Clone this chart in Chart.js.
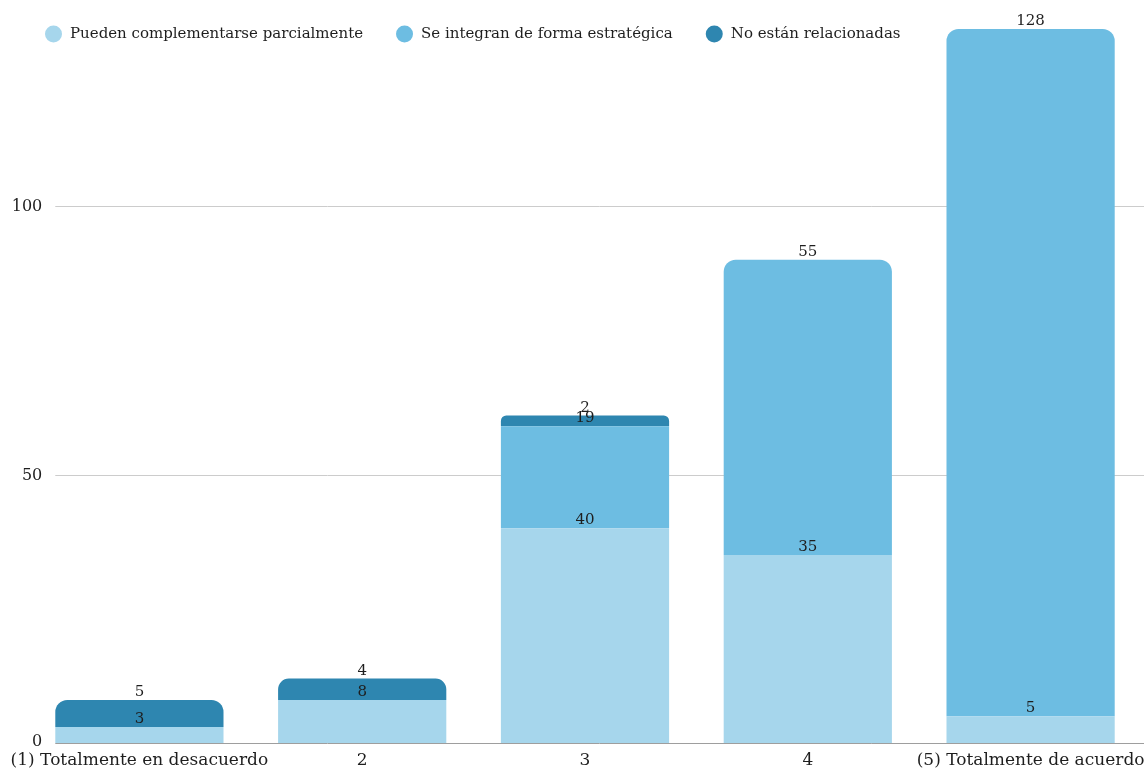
<!DOCTYPE html>
<html lang="es">
<head>
<meta charset="utf-8">
<title>Respuestas por nivel de acuerdo</title>
<script src="https://cdn.jsdelivr.net/npm/chart.js@4.4.1/dist/chart.umd.min.js"></script>
<style>
  html, body { margin: 0; padding: 0; background: #ffffff; }
  #wrap { width: 1144px; height: 769px; position: relative; }
</style>
</head>
<body>
<div id="wrap"><canvas id="chart" width="1144" height="769"></canvas></div>
<script>
// Response categories (agreement scale)
const categories = [
  '(1) Totalmente en desacuerdo',
  '2',
  '3',
  '4',
  '(5) Totalmente de acuerdo'
];

// Series names
const seriesNames = [
  'Pueden complementarse parcialmente',
  'Se integran de forma estratégica',
  'No están relacionadas'
];

// Counts per category for each series
const parcialmente = [3, 8, 40, 35, 5];
const estrategica  = [0, 0, 19, 55, 128];
const noRelacionadas = [5, 4, 2, 0, 0];

// Y axis tick step
const yStep = 50;

const colors = ['#a6d6ec', '#6dbde2', '#2e86b0'];
const FONT = '"DejaVu Serif", "Liberation Serif", serif';
const TEXT = '#1e1e1e';

const seriesValues = [parcialmente, estrategica, noRelacionadas];
const stackTotals = categories.map((_, i) => seriesValues.reduce((s, arr) => s + arr[i], 0));
const yMax = Math.max(...stackTotals);

// Gridlines start at the first bar's left edge and run to the right side;
// the y tick labels sit to the left of them.
const gridPlugin = {
  id: 'sheetGrid',
  beforeDatasetsDraw(chart) {
    const { ctx } = chart;
    const y = chart.scales.y;
    const first = chart.getDatasetMeta(0).data[0];
    const x0 = first.x - first.width / 2;
    ctx.save();
    ctx.lineWidth = 1;
    ctx.font = '16px ' + FONT;
    ctx.textAlign = 'right';
    ctx.textBaseline = 'middle';
    y.ticks.forEach(t => {
      const py = Math.round(y.getPixelForValue(t.value)) + 0.5;
      ctx.strokeStyle = t.value === 0 ? '#9e9e9e' : '#cccccc';
      ctx.beginPath();
      ctx.moveTo(x0, py);
      ctx.lineTo(chart.width, py);
      ctx.stroke();
      ctx.fillStyle = TEXT;
      ctx.fillText(String(t.value), x0 - 13, py - (t.value === 0 ? 2 : 0));
    });
    ctx.restore();
  }
};

// Value labels placed just above the end of each segment
const valueLabels = {
  id: 'valueLabels',
  afterDatasetsDraw(chart) {
    const { ctx } = chart;
    ctx.save();
    ctx.font = '15px ' + FONT;
    ctx.fillStyle = TEXT;
    ctx.textAlign = 'center';
    ctx.textBaseline = 'alphabetic';
    chart.data.datasets.forEach((ds, di) => {
      const meta = chart.getDatasetMeta(di);
      meta.data.forEach((bar, i) => {
        const v = ds.data[i];
        if (!v) return;
        ctx.fillText(String(v), bar.x, bar.y - 4);
      });
    });
    ctx.restore();
  }
};

// Legend row drawn across the top, overlapping the plot's upper band
const topLegend = {
  id: 'topLegend',
  afterDraw(chart) {
    const { ctx } = chart;
    ctx.save();
    ctx.font = '15px ' + FONT;
    ctx.textBaseline = 'middle';
    ctx.textAlign = 'left';
    let x = 45;
    const cy = 34;
    const r = 8.5;
    chart.data.datasets.forEach(ds => {
      ctx.fillStyle = ds.backgroundColor;
      ctx.beginPath();
      ctx.arc(x + r, cy, r, 0, Math.PI * 2);
      ctx.fill();
      const tx = x + 2 * r + 8;
      ctx.fillStyle = TEXT;
      ctx.fillText(ds.label, tx, cy);
      x = tx + ctx.measureText(ds.label).width + 33;
    });
    ctx.restore();
  }
};

const datasets = seriesNames.map((name, k) => ({
  label: name,
  data: seriesValues[k],
  backgroundColor: colors[k],
  borderWidth: 0,
  borderRadius: 12,
  borderSkipped: 'start',
  categoryPercentage: 1.0,
  barPercentage: 0.755
}));

new Chart(document.getElementById('chart'), {
  type: 'bar',
  data: { labels: categories, datasets },
  options: {
    responsive: false,
    animation: false,
    layout: { padding: { top: 29, right: 2, bottom: 0, left: 0 } },
    plugins: {
      legend: { display: false },
      tooltip: { enabled: false }
    },
    scales: {
      x: {
        stacked: true,
        grid: { display: false, drawTicks: false },
        border: { display: false },
        ticks: {
          color: TEXT,
          font: { family: FONT, size: 17, lineHeight: 1.2 },
          padding: 7,
          maxRotation: 0,
          autoSkip: false
        },
        afterFit(scale) {
          scale.height = 26;
          scale.paddingLeft = 0;
          scale.paddingRight = 0;
        }
      },
      y: {
        stacked: true,
        min: 0,
        max: yMax,
        grid: { display: false, drawTicks: false },
        border: { display: false },
        ticks: {
          display: false,
          stepSize: yStep,
          includeBounds: false
        },
        afterFit(scale) { scale.width = 28; }
      }
    }
  },
  plugins: [gridPlugin, valueLabels, topLegend]
});
</script>
</body>
</html>
